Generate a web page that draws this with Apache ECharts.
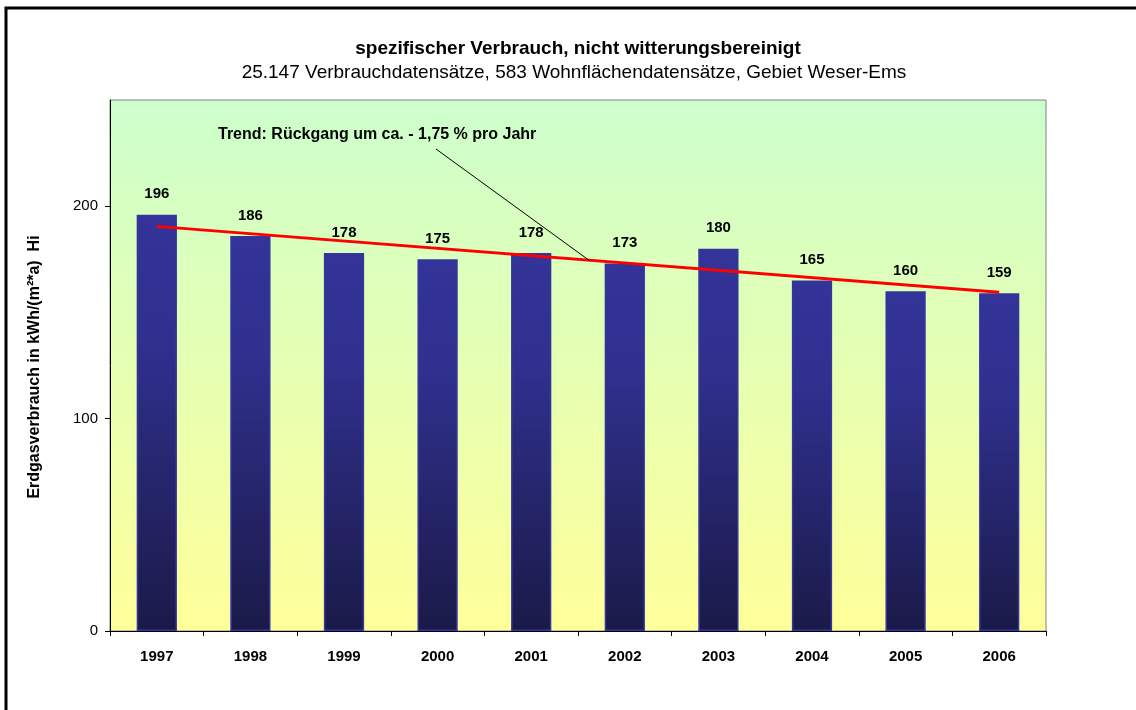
<!DOCTYPE html>
<html>
<head>
<meta charset="utf-8">
<script src="https://cdn.jsdelivr.net/npm/echarts@6/dist/echarts.min.js"></script>
<style>
  html, body { margin: 0; padding: 0; background: #fff; }
  #main { width: 1136px; height: 710px; }
</style>
</head>
<body>
<div id="main"></div>
<script>
// Jahre und Verbrauchswerte
var years = ['1997', '1998', '1999', '2000', '2001', '2002', '2003', '2004', '2005', '2006'];
var consumption = [196, 186, 178, 175, 178, 173, 180, 165, 160, 159];
var trend = [190.5, null, null, null, null, null, null, null, null, 159.5];
var yTicks = [0, 100, 200];

var chart = echarts.init(document.getElementById('main'));
var font = 'Arial, "Liberation Sans", sans-serif';

var option = {
  backgroundColor: '#fff',
  animation: false,
  title: [{
    text: 'spezifischer Verbrauch, nicht witterungsbereinigt',
    left: 573, top: 34, textAlign: 'center',
    textStyle: { fontFamily: font, fontSize: 19, fontWeight: 'bold', color: '#000' }
  }, {
    text: '25.147 Verbrauchdatensätze, 583 Wohnflächendatensätze, Gebiet Weser-Ems',
    left: 569, top: 58, textAlign: 'center',
    textStyle: { fontFamily: font, fontSize: 19, fontWeight: 'normal', color: '#000' }
  }],
  grid: {
    left: 110, top: 100, right: 90, bottom: 79,
    show: true,
    borderColor: '#808080',
    borderWidth: 1,
    backgroundColor: new echarts.graphic.LinearGradient(0, 0, 0, 1, [
      { offset: 0, color: '#ccffcc' },
      { offset: 1, color: '#ffff99' }
    ])
  },
  xAxis: {
    type: 'category',
    data: years,
    axisLine: { lineStyle: { color: '#000', width: 1 } },
    axisTick: { show: true, length: 5, lineStyle: { color: '#000' } },
    axisLabel: { fontFamily: font, fontSize: 15, fontWeight: 'bold', color: '#000', margin: 18 }
  },
  yAxis: {
    type: 'value',
    min: 0, max: 250, interval: 50,
    splitLine: { show: false },
    axisLine: { show: true, lineStyle: { color: '#000', width: 1 } },
    axisTick: { show: true, customValues: yTicks, length: 5, inside: false, lineStyle: { color: '#000' } },
    axisLabel: { customValues: yTicks, fontFamily: font, fontSize: 15, color: '#000', margin: 12 }
  },
  series: [{
    type: 'bar',
    data: consumption,
    barWidth: '43%',
    itemStyle: {
      color: new echarts.graphic.LinearGradient(0, 0, 0, 1, [
        { offset: 0, color: '#333399' },
        { offset: 0.3, color: '#30308f' },
        { offset: 1, color: '#1a1a48' }
      ]),
      borderColor: '#3535a0',
      borderWidth: 1.5
    },
    label: {
      show: true, position: 'top', distance: 13,
      fontFamily: font, fontSize: 15, fontWeight: 'bold', color: '#000'
    },
    z: 2
  }, {
    type: 'line',
    data: trend,
    connectNulls: true,
    symbol: 'none',
    lineStyle: { color: '#ff0000', width: 3 },
    z: 3
  }],
  graphic: [{
    type: 'rect',
    shape: { x: 6, y: 8, width: 1150, height: 720 },
    style: { fill: 'none', stroke: '#000', lineWidth: 3 }
  }, {
    type: 'text',
    x: 35, y: 367, rotation: Math.PI / 2,
    style: {
      text: 'Erdgasverbrauch in kWh/(m²*a)  Hi',
      font: 'bold 16px ' + font,
      fill: '#000', align: 'center', verticalAlign: 'middle'
    }
  }, {
    type: 'text',
    left: 218, top: 127,
    style: {
      text: 'Trend: Rückgang um ca. - 1,75 % pro Jahr',
      font: 'bold 16px ' + font,
      fill: '#000'
    },
    z: 10
  }, {
    type: 'line',
    shape: { x1: 436, y1: 149, x2: 590, y2: 261 },
    style: { stroke: '#000', lineWidth: 1 },
    z: 10
  }]
};

chart.setOption(option);
</script>
</body>
</html>
